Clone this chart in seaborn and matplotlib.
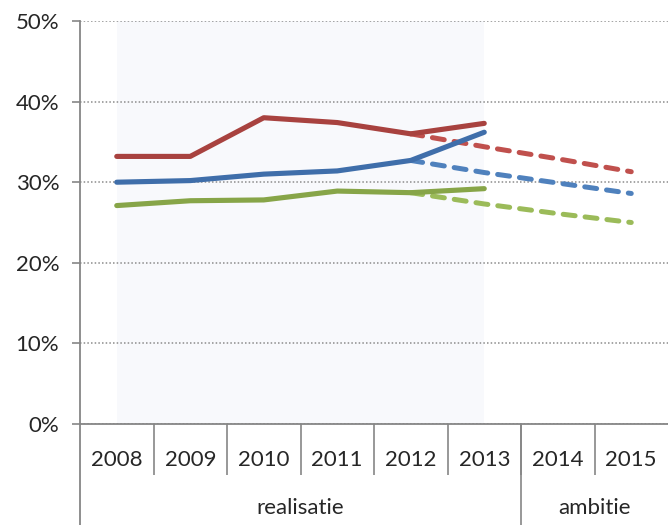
import numpy as np
import pandas as pd
import matplotlib
matplotlib.use("Agg")
import matplotlib.pyplot as plt
import seaborn as sns

# categories on the x axis
years = ["2008", "2009", "2010", "2011", "2012", "2013", "2014", "2015"]
groups = ["realisatie", "ambitie"]
group_sizes = [6, 2]

# realised values (solid lines), 2008-2013
real_years = ["2008", "2009", "2010", "2011", "2012", "2013"]
red_real = [0.332, 0.332, 0.380, 0.374, 0.360, 0.373]
blue_real = [0.300, 0.302, 0.310, 0.314, 0.327, 0.362]
green_real = [0.271, 0.277, 0.278, 0.289, 0.287, 0.292]

# ambition values (dashed lines), 2012-2015
amb_years = ["2012", "2013", "2014", "2015"]
red_amb = [0.360, 0.344, 0.329, 0.313]
blue_amb = [0.327, 0.312, 0.299, 0.286]
green_amb = [0.287, 0.273, 0.261, 0.250]

yticks = [0, 0.1, 0.2, 0.3, 0.4, 0.5]

sns.set_style("white")
plt.rcParams["font.family"] = ["Lato", "DejaVu Sans"]
fs = 16

fig = plt.figure(figsize=(6.68, 5.25), dpi=100)
ax = fig.add_axes([80 / 668, 1 - 424 / 525, 1 - 80 / 668, 403 / 525])

pos = {y: i for i, y in enumerate(years)}

# light shading behind the realised period
ax.axvspan(pos["2008"], pos["2013"], color="#F8F9FC", zorder=0, lw=0)

real = pd.DataFrame({"x": [pos[y] for y in real_years],
                     "red": red_real, "blue": blue_real, "green": green_real})
amb = pd.DataFrame({"x": [pos[y] for y in amb_years],
                    "red": red_amb, "blue": blue_amb, "green": green_amb})

solid_colors = {"red": "#A8423F", "blue": "#3F6EAA", "green": "#87A548"}
dash_colors = {"red": "#C0504D", "blue": "#4F81BD", "green": "#9BBB59"}

for key in ["green", "blue", "red"]:
    sns.lineplot(data=amb, x="x", y=key, ax=ax, color=dash_colors[key],
                 lw=3.6, linestyle=(0, (2.4, 2.0)), dash_capstyle="round", zorder=3)
for key in ["green", "blue", "red"]:
    sns.lineplot(data=real, x="x", y=key, ax=ax, color=solid_colors[key],
                 lw=3.7, solid_capstyle="round", solid_joinstyle="round", zorder=4)

ax.set_xlim(-0.5, len(years) - 0.5)
ax.set_ylim(0, 0.5)
ax.set_yticks(yticks)
ax.set_yticklabels([f"{int(round(t * 100))}%" for t in yticks], fontsize=fs)
ax.yaxis.grid(True, color="#8C8C8C", linestyle=(0, (1, 1.4)), lw=1.1)
ax.xaxis.grid(False)
ax.tick_params(axis="y", length=6, width=1.2, color="#868686", pad=9, left=True)

for s in ["top", "right"]:
    ax.spines[s].set_visible(False)
for s in ["left", "bottom"]:
    ax.spines[s].set_color("#868686")
    ax.spines[s].set_linewidth(1.3)

# year labels and short separators below the axis
ax.set_xticks(range(len(years)))
ax.set_xticklabels(years, fontsize=fs)
ax.tick_params(axis="x", length=0, pad=19, bottom=True)
ax.set_xticks(np.arange(0.5, len(years) - 0.5, 1), minor=True)
ax.tick_params(axis="x", which="minor", length=37, width=1.2, color="#868686", bottom=True)
ax.set_xlabel("")
ax.set_ylabel("")

# group labels and long separators
tr = ax.get_xaxis_transform()
start = -0.5
for g, n in zip(groups, group_sizes):
    ax.text(start + n / 2, -0.208, g, transform=tr, ha="center", va="center", fontsize=fs)
    start += n
ax.plot([5.5, 5.5], [0, -0.26], transform=tr, color="#868686", lw=1.2, clip_on=False)
ax.plot([-0.5, -0.5], [0, -0.26], transform=tr, color="#868686", lw=1.3, clip_on=False)

fig.savefig("out.png", dpi=100)
